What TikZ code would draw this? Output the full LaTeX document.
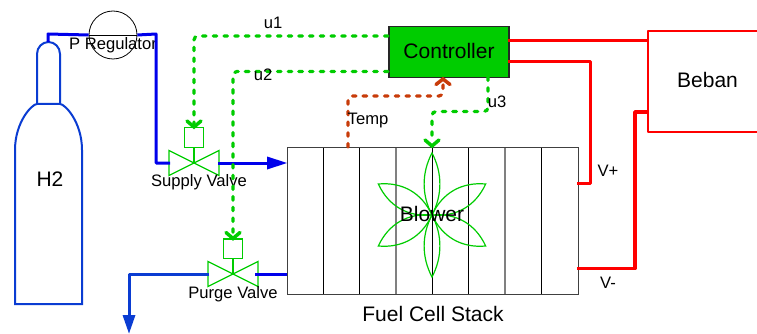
\documentclass[tikz,border=0pt]{standalone}
\usepackage{fontspec}
\setmainfont{Liberation Sans}
\usetikzlibrary{calc}
\definecolor{pipeblue}{RGB}{0,0,235}
\definecolor{tankblue}{RGB}{10,60,210}
\definecolor{ctlgreen}{RGB}{0,204,0}
\definecolor{tempbrown}{RGB}{200,60,10}
\definecolor{loadred}{RGB}{255,0,0}
\tikzset{
  big/.style={font=\fontsize{21}{24}\selectfont,inner sep=0pt},
  small/.style={font=\fontsize{16.6}{20}\selectfont,inner sep=0pt},
  pipe/.style={draw=pipeblue,line width=3pt,line join=round},
  purgepipe/.style={draw=tankblue,line width=3pt,line join=round},
  signal/.style={draw=ctlgreen,line width=3.2pt,dash pattern=on 3.6pt off 7.1pt,rounded corners=4pt,line cap=round},
  tempsig/.style={draw=tempbrown,line width=3.2pt,dash pattern=on 3.6pt off 7.1pt,rounded corners=4pt,line cap=round},
  chevron/.style={line width=3.5pt,line cap=round,line join=miter},
  valvepart/.style={draw=ctlgreen,line width=1.3pt,line join=miter},
  power/.style={draw=loadred,line width=3pt,line join=round},
  petal/.style={draw=ctlgreen,line width=1.2pt},
  divider/.style={draw=black,line width=.8pt},
  dividergray/.style={draw=black!50,line width=1.3pt},
}
\newcommand{\valve}[3]{%
  \draw[valvepart] (#1,#2) -- (#1-25,#2-12.5) -- (#1-25,#2+12.5) -- cycle;
  \draw[valvepart] (#1,#2) -- (#1+25,#2-12.5) -- (#1+25,#2+12.5) -- cycle;
  \node[valvepart,draw,minimum width=19.5pt,minimum height=19.5pt,inner sep=0pt,anchor=south] (#3) at (#1,#2-15) {};
  \draw[valvepart] (#3.south) -- (#1,#2);
}
\newcommand{\petalat}[2]{%
  \draw[petal,rotate around={#1:(blow)}] (blow) .. controls ($(blow)+(#2,-20)$) and ($(blow)+(#2,-42)$) .. ($(blow)+(0,-62)$)
     .. controls ($(blow)+(-#2,-42)$) and ($(blow)+(-#2,-20)$) .. (blow);
}
\begin{document}
\begin{tikzpicture}[x=1pt,y=-1pt]
\useasboundingbox (0,0) rectangle (757,334);
% stack
\foreach \x in {323,359,432,468,541}
  \draw[divider] (\x,147) -- (\x,294);
\foreach \x in {396,505}
  \draw[dividergray] (\x,147) -- (\x,294);
\node[draw=black!75,line width=.9pt,minimum width=290.5pt,minimum height=147pt,inner sep=0pt,anchor=north west] (stack) at (287,147) {};
\coordinate (blow) at (432,215);
\petalat{0}{10.5}
\petalat{180}{10.5}
\foreach \a in {60,120,240,300} {\petalat{\a}{14}}
\node[big] (blowerlabel) at (432,214) {Blower};
\node[big] (stacklabel) at (433,314) {Fuel Cell Stack};
% cylinder
\draw[draw=tankblue,line width=2pt] (37,104) -- (37,54) arc[start angle=180,end angle=360,x radius=11.5,y radius=12] -- (60,104);
\draw[draw=tankblue,line width=2pt] (15,150) .. controls (15,122) and (32,104) .. (37,104) -- (60,104) .. controls (65,104) and (82,122) .. (82,150)
  -- (82,304) -- (15,304) -- cycle;
\node[big] (h2) at (50,179) {H2};
% regulator
\node[draw=black,circle,line width=.8pt,minimum size=48pt,inner sep=0pt] (reg) at (113,35) {};
\draw[black,line width=.8pt] (reg.west) -- (reg.east);
\node[small] (reglabel) at (113,45.5) {P Regulator};
% valves
\valve{194}{163}{sv}
\valve{233}{274}{pv}
\coordinate (svL) at (170,163);
\coordinate (svR) at (218,163);
\coordinate (pvL) at (209,274);
\coordinate (pvR) at (255,274);
\coordinate (neck) at (48,42);
\node[small] (svlabel) at (199,182) {Supply Valve};
\node[small] (pvlabel) at (233,294) {Purge Valve};
% pipes
\draw[pipe] (neck) -- (48,34) -- (reg.west);
\draw[pipe] (reg.east) -- (156,34) -- (156,163) -- (svL);
\draw[pipe] (svR) -- (268,163);
\fill[pipeblue] (stack.west |- 0,163) -- (267,156.5) -- (267,169.5) -- cycle;
\draw[pipe] (pvR) -- (stack.west |- pvR);
\draw[purgepipe] (pvL) -- (129,274) -- (129,316);
\fill[tankblue] (129,333.5) -- (122.5,315) -- (135.5,315) -- cycle;
% controller
\node[draw=black!85,fill=ctlgreen,line width=1.5pt,minimum width=120pt,minimum height=51pt,inner sep=0pt,anchor=north west] (ctrl) at (388,26) {};
\node[big] (ctrllabel) at (449,50.5) {Controller};
% load
\coordinate (bebanTL) at (648,31);
\coordinate (bebanBL) at (648,132);
\draw[power,line width=2pt] (757,31) -- (bebanTL) -- (bebanBL) -- (757,132);
\node[big] (beban) at (707.5,80) {Beban};
\draw[power] ($(ctrl.east |- 0,41)+(-2,0)$) -- (bebanTL |- 0,41);
\draw[power] ($(ctrl.east |- 0,61.5)+(-2,0)$) -- (590,61.5) -- (590,183) -- ($(stack.east |- 0,183)+(-1.5,0)$);
\draw[power,line width=3.6pt] ($(stack.east |- 0,268.5)+(-1.5,0)$) -- (635,268.5) -- (635,112) -- (bebanTL |- 0,112);
% signals
\draw[signal] (ctrl.west |- 0,36) -- (194,36) -- (194,124);
\draw[chevron,ctlgreen] (187,121) -- (194,127) -- (201,121);
\draw[signal] (ctrl.west |- 0,71.5) -- (233,71.5) -- (233,235);
\draw[chevron,ctlgreen] (226,232.5) -- (233,238.5) -- (240,232.5);
\draw[signal] (488,77) -- (488,111.5) -- (432,111.5) -- (432,142);
\draw[chevron,ctlgreen] (425,140) -- (432,146) -- (439,140);
\draw[tempsig] (348,147) -- (348,96) -- (443,96) -- (443,83);
\draw[chevron,tempbrown] (436,84.5) -- (443,79) -- (450,84.5);
% labels
\node[small] (u1) at (273,23) {u1};
\node[small] (u2) at (263,75) {u2};
\node[small] (u3) at (497,102) {u3};
\node[small] (temp) at (368,121) {Temp};
\node[small] (vp) at (608,171) {V+};
\node[small] (vm) at (608,283) {V-};
\end{tikzpicture}
\end{document}
